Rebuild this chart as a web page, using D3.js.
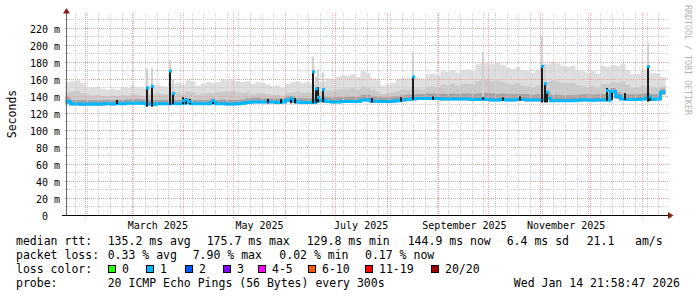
<!DOCTYPE html>
<html><head><meta charset="utf-8">
<script src="https://cdn.jsdelivr.net/npm/d3@7"></script>
<style>
body{margin:0;background:#fff}
svg{display:block}
text{font-family:"DejaVu Sans Mono",monospace}
</style>
</head><body>
<svg id="c" width="697" height="297"></svg>
<script>
// ---------------- DATA ----------------
const endTime = "2026-01-14T21:58:47";
const spanDays = 360;
const stepDays = 3;

// median RTT (ms), one value per 3-day sample
const median = [134,131.2,131.2,131,131,131.2,131,131.2,131.5,131.2,
131.8,131.5,132,132,132.2,132,131.2,130.5,131.5,131.5,
131.5,131.8,131.5,132,133,131.5,131.5,131.5,131.5,133,
131.5,131.5,131.2,131.2,131.5,132,133,133.5,133.5,133.5,
133.5,133.5,133,133.5,136,135,133.5,133,133,133,
135,136,134,133.5,133.5,134,134,134,134,136,
136,134.5,134.5,134,134,134.5,135,136,136.5,137,
137.5,137.5,137.5,137.5,137.5,137,137,137,137,137,
137,136.5,136.5,137,136.5,136,136,136.5,136,136,
136.5,136.5,136,136,136,136,138,135,135,135,
135,135,135.5,136,136,135.5,136,136,136,146,
140,137,136.5,136.5,136.5,137,138,136.5,137,145];

// smoke: highest ping per sample (ms)
const smokeHi = [157,158,159,156,151,150,151,149,148,149,
148,151,150,152,151,150,153,152,154,152,
151,155,156,154,159,158,153,155,157,156,
157,160,159,160,158,157,158,155,157,156,
154,152,153,150,155,157,158,156,157,155,
158,157,161,160,163,165,164,166,163,170,
168,161,159,153,154,156,160,162,161,163,
162,161,166,167,165,170,169,171,168,171,
172,170,178,180,179,178,180,177,174,172,
175,171,170,168,171,172,178,181,179,176,
175,176,171,170,168,170,167,176,175,177,
176,178,171,166,167,171,170,168,167,163];

// smoke: upper-middle ping band (ms)
const smokeMid = [145,146,147,144,142,141,142,141,140,141,
140,142,141,143,142,141,143,142,144,143,
142,144,145,143,146,145,142,143,144,144,
145,146,146,147,145,144,145,143,144,144,
143,142,142,141,144,145,146,144,145,144,
146,145,147,147,148,149,149,150,148,152,
151,148,146,143,144,145,147,148,148,149,
149,148,151,152,151,154,153,155,153,155,
155,154,158,160,159,158,159,157,155,154,
156,153,152,151,153,154,157,159,158,156,
156,156,153,152,151,152,150,155,155,157,
156,158,154,150,151,153,152,151,150,152];

// smoke: core band near the median (ms)
const smokeCore = [139,136,136,136,135.5,135.5,135.5,135.5,136,135.5,
136,136,136.5,137,137,136.5,136,135.5,136,136,
136,136.5,136,136.5,137.5,136,136,136,136,137.5,
136,136.5,136,136,136,136.5,138,138.5,138.5,138,
138,138,137.5,138,141,140,138,138,138,138,
140,141,139,139,139,139.5,139.5,140,139.5,142,
142,140,140,139,139,140,140.5,141.5,142,142.5,
143,143,143.5,143.5,143,143.5,143,143.5,143,143.5,
143.5,143,143.5,144,144,143.5,143,143.5,143,142.5,
143,143,142.5,142,142.5,142.5,144,142,142,141.5,
141.5,141.5,142,142.5,142.5,142,142.5,142.5,142.5,150,
145,143,142.5,142.5,142.5,143,144,142.5,143,149];

// smoke: lowest ping per sample (ms)
const smokeLow = [131,129.8,129.8,129.5,129.5,129.8,129.5,129.8,130,129.8,
130,130,130.5,130.5,130.5,130.5,129.8,129,130,130,
130,130.2,130,130.5,131,130,130,130,130,131,
130,130,129.8,129.8,130,130.5,131.5,132,132,132,
132,132,131.5,132,133.5,133,132,131.5,131.5,131.5,
133,134,132.5,132,132,132.5,132.5,132.5,132.5,134,
134,133,133,132.5,132.5,133,133.5,134.5,135,135.5,
136,136,136,136,136,135.5,135.5,135.5,135.5,135.5,
135.5,135,135,135.5,135,134.5,134.5,135,134.5,134.5,
135,135,134.5,134.5,134.5,134.5,136,133.5,133.5,133.5,
133.5,133.5,134,134.5,134.5,134,134.5,134.5,134.5,143,
137,135.5,135,135,135,135.5,136,135,135.5,142];

// short latency spikes
const spikeDates = ["2025-02-20T03:00","2025-03-10T03:00","2025-03-13T03:00","2025-03-23T22:00","2025-03-25T17:00","2025-03-31T17:00","2025-04-02T12:00","2025-04-04T22:00","2025-04-18T17:00","2025-05-21T17:00","2025-05-29T12:00","2025-06-04T12:00","2025-06-06T22:00","2025-06-17T17:00","2025-06-19T12:00","2025-06-20T17:00","2025-06-23T17:00","2025-07-23T03:00","2025-08-09T12:00","2025-08-16T17:00","2025-08-28T17:00","2025-09-27T17:00","2025-10-10T00:00","2025-10-19T22:00","2025-11-02T03:00","2025-11-03T15:00","2025-11-05T03:00","2025-12-11T03:00","2025-12-14T03:00","2025-12-21T22:00","2026-01-04T17:00","2026-01-05T22:00"];
const spikeLow = [131,128,128,130,131,131,131,131,131,132,132,132,132,132,133,133,133,133,134,136,136,136,135,135,133,133,133,135,136,136,134,135];
const spikeHigh = [136,151,152,170,144,139,138,137,136,137,137,139,138,169,150,151,148,138,139,163,140,139,139,140,176,155,146,150,147,144,175,140];
const spikeMax = [null,173,173,183,160,null,null,null,null,null,null,null,null,187,163,172,168,null,null,192,null,192,null,null,210,178,null,null,null,null,203,null];
const spikeMedian = [null,150,152,170,143.5,135,136,134,135,null,null,138,null,169,149,139,148,null,null,163,null,null,null,null,175.5,155,145,147,146,null,175,139.5];

// axes
const yTicks = [0,20,40,60,80,100,120,140,160,180,200,220];
const yGridMinor = [10,30,50,70,90,110,130,150,170,190,210,230];
const xLabelDates = ["2025-03-16","2025-05-16","2025-07-16","2025-09-16","2025-11-16"];

// legend
const rttLabel = "median rtt:";
const rttStats = ["135.2 ms avg","175.7 ms max","129.8 ms min","144.9 ms now","6.4 ms sd","21.1","am/s"];
const lossLabel = "packet loss:";
const lossStats = ["0.33 % avg","7.90 % max","0.02 % min","0.17 % now"];
const colorLabel = "loss color:";
const lossClasses = ["0","1","2","3","4-5","6-10","11-19","20/20"];
const probeLabel = "probe:";
const probeText = "20 ICMP Echo Pings (56 Bytes) every 300s";
const dateText = "Wed Jan 14 21:58:47 2026";
const yTitle = "Seconds";
const watermark = "RRDTOOL / TOBI OETIKER";

// ---------------- STYLE / LAYOUT ----------------
const lossColors = ["#26ff00","#00b8ff","#0059ff","#7e00ff","#ff00ff","#ff5500","#ff0000","#a10000"];
const rttX = [107.7,206.7,306.7,407.7,506.7,586.7,635];
const lossX = [107.7,192.7,279.3,365];
const boxX = [108,146,185,223,258,308,365,431];

const svg = d3.select("#c");
const DAY = 864e5;
const end = new Date(endTime);
const start = new Date(end.getTime() - spanDays*DAY);
const sampleDates = median.map((_, i) => new Date(start.getTime() + i*stepDays*DAY));

const x = d3.scaleTime().domain([start, end]).range([65.5, 665.5]);
const y = d3.scaleLinear().domain([0, 237.6]).range([215.5, 13.5]);

// smoke bands
function band(lo, hi) {
  const rows = sampleDates.map((d, i) => ({d, lo: lo[i], hi: hi[i]}));
  rows.push({d: end, lo: lo[lo.length-1], hi: hi[hi.length-1]});
  return rows;
}
const area = d3.area().x(r => x(r.d)).y0(r => y(r.lo)).y1(r => y(r.hi)).curve(d3.curveStepAfter);
const gSmoke = svg.append("g");
gSmoke.append("path").attr("d", area(band(smokeLow, smokeHi))).attr("fill", "#dedede");
gSmoke.append("path").attr("d", area(band(smokeLow, smokeMid))).attr("fill", "#cacaca");
gSmoke.append("path").attr("d", area(band(smokeLow, smokeCore))).attr("fill", "#a2a2a2");

// spike smoke (light)
const spikes = spikeDates.map((s, i) => ({d: new Date(s), lo: spikeLow[i], hi: spikeHigh[i], mx: spikeMax[i], md: spikeMedian[i]}));
svg.append("g").selectAll("rect").data(spikes.filter(s => s.mx != null)).join("rect")
  .attr("x", s => Math.floor(x(s.d)) - 1).attr("width", 2)
  .attr("y", s => y(s.mx)).attr("height", s => y(s.lo) - y(s.mx))
  .attr("fill", "#d2d2d2");

// grid (over the smoke)
const grid = svg.append("g").attr("shape-rendering", "crispEdges").attr("stroke-width", 1).attr("stroke-dasharray", "1,1");
const minorY = "#cdcdcd", majorY = "#e6a3a3";
grid.selectAll(".hm").data(yGridMinor).join("line").attr("class","hm")
  .attr("x1", 65).attr("x2", 668).attr("y1", d => y(d)).attr("y2", d => y(d)).attr("stroke", minorY);
grid.selectAll(".hM").data(yTicks.filter(v => v > 0)).join("line").attr("class","hM")
  .attr("x1", 65).attr("x2", 668).attr("y1", d => y(d)).attr("y2", d => y(d)).attr("stroke", majorY);
const months = d3.timeMonth.range(start, end);
const monthSet = new Set(months.map(m => +d3.timeDay.floor(m)));
const weeks = d3.timeSunday.range(start, end).filter(w => !monthSet.has(+w));
grid.selectAll(".vm").data(weeks).join("line").attr("class","vm")
  .attr("x1", d => Math.floor(x(d)) + 0.5).attr("x2", d => Math.floor(x(d)) + 0.5)
  .attr("y1", 13).attr("y2", 216).attr("stroke", minorY);
grid.selectAll(".vM").data(months).join("line").attr("class","vM")
  .attr("x1", d => Math.floor(x(d)) + 0.5).attr("x2", d => Math.floor(x(d)) + 0.5)
  .attr("y1", 13).attr("y2", 218.5).attr("stroke", majorY);

// median line
const medRows = sampleDates.map((d, i) => [d, median[i]]);
medRows.push([end, median[median.length-1]]);
svg.append("path")
  .attr("d", d3.line().x(r => x(r[0])).y(r => y(r[1])).curve(d3.curveStepAfter)(medRows))
  .attr("fill", "none").attr("stroke", lossColors[1]).attr("stroke-width", 3);

// spike dark smoke
svg.append("g").selectAll("rect").data(spikes).join("rect")
  .attr("x", s => Math.floor(x(s.d)) - 1).attr("width", 2)
  .attr("y", s => y(s.hi)).attr("height", s => y(s.lo) - y(s.hi))
  .attr("fill", "#1e1e1e");
svg.append("g").selectAll("rect").data(spikes.filter(s => s.md != null)).join("rect")
  .attr("x", s => Math.floor(x(s.d)) - 1).attr("width", 3)
  .attr("y", s => y(s.md) - 1.5).attr("height", 3)
  .attr("fill", lossColors[1]);

// axes lines + arrows
svg.append("line").attr("x1", 66.5).attr("x2", 66.5).attr("y1", 215.5).attr("y2", 12)
  .attr("stroke", "#666").attr("shape-rendering","crispEdges");
svg.append("line").attr("x1", 62).attr("x2", 669).attr("y1", 215.5).attr("y2", 215.5)
  .attr("stroke", "#000").attr("shape-rendering","crispEdges");
svg.append("path").attr("d", "M66.5,8 L63,13.5 L70,13.5 Z").attr("fill", "#8c1c1c");
svg.append("path").attr("d", "M673.5,215.5 L668,212 L668,219 Z").attr("fill", "#8c1c1c");

// y axis labels
const yAxis = svg.append("g").attr("transform", "translate(60,0)")
  .call(d3.axisLeft(y).tickValues(yTicks).tickSize(0).tickPadding(0)
    .tickFormat(v => v === 0 ? "0" : v + " m"));
yAxis.select(".domain").remove();
yAxis.selectAll("text").attr("font-family", '"DejaVu Sans Mono",monospace').attr("font-size", "10px")
  .attr("fill", "#000").attr("dy", "3.6").attr("x", v => v === 0 ? -12.04 : 0);

// x axis labels
const xAxis = svg.append("g").attr("transform", "translate(0,215.5)")
  .call(d3.axisBottom(x).tickValues(xLabelDates.map(s => new Date(s + "T00:00:00")))
    .tickSize(0).tickPadding(0).tickFormat(d3.timeFormat("%B %Y")));
xAxis.select(".domain").remove();
xAxis.selectAll("text").attr("font-family", '"DejaVu Sans Mono",monospace').attr("font-size", "10px")
  .attr("fill", "#000").attr("y", 13.2).attr("dy", 0);

// y title
svg.append("text").attr("transform", "translate(15.5,114) rotate(-90)")
  .attr("text-anchor", "middle").attr("font-size", "11.5px").attr("fill", "#000").text(yTitle);

// watermark
svg.append("text").attr("transform", "translate(684.5,5) rotate(90)")
  .attr("font-size", "8.3px").attr("fill", "#b4b4b4").text(watermark);

// legend
const fs = "11.5px";
const L = svg.append("g").attr("font-size", fs).attr("fill", "#000");
L.append("text").attr("x", 16).attr("y", 245).text(rttLabel);
L.selectAll(".r").data(rttStats).join("text").attr("class","r")
  .attr("x", (d, i) => rttX[i]).attr("y", 245).text(d => d);
L.append("text").attr("x", 16).attr("y", 259).text(lossLabel);
L.selectAll(".l").data(lossStats).join("text").attr("class","l")
  .attr("x", (d, i) => lossX[i]).attr("y", 259).text(d => d);
L.append("text").attr("x", 16).attr("y", 273).text(colorLabel);
L.selectAll(".b").data(lossClasses).join("rect").attr("class","b")
  .attr("x", (d, i) => boxX[i] + 0.5).attr("y", 265.5).attr("width", 7).attr("height", 7)
  .attr("fill", (d, i) => lossColors[i]).attr("stroke", "#000").attr("stroke-width", 1)
  .attr("shape-rendering","crispEdges");
L.selectAll(".bl").data(lossClasses).join("text").attr("class","bl")
  .attr("x", (d, i) => boxX[i] + 14).attr("y", 273).text(d => d);
L.append("text").attr("x", 16).attr("y", 287).text(probeLabel);
L.append("text").attr("x", 107.7).attr("y", 287).text(probeText);
L.append("text").attr("x", 680).attr("y", 287).attr("text-anchor", "end").text(dateText);
</script>
</body></html>
